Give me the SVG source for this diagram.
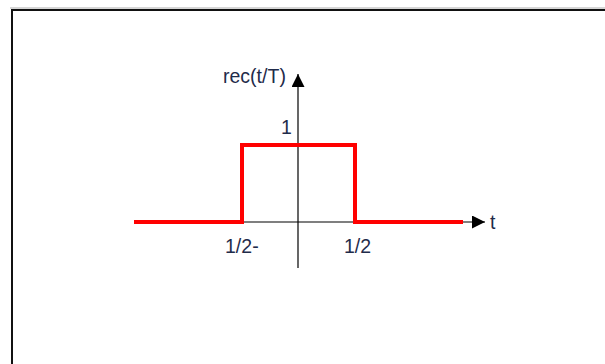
<svg xmlns="http://www.w3.org/2000/svg" width="605" height="364" viewBox="0 0 605 364">
<style>
.lbl{font-family:"Liberation Sans",Arial,sans-serif;font-size:21px;fill:#1f2b4a;}
.ax{stroke:#000;stroke-width:1.2;fill:none;}
.sig{stroke:#ff0000;stroke-width:4;fill:none;stroke-linejoin:miter;}
</style>
<defs>
<marker id="arr" viewBox="0 0 10 10" refX="10" refY="5" markerWidth="13" markerHeight="13" markerUnits="userSpaceOnUse" orient="auto">
<path d="M0,0 L10,5 L0,10 z" fill="#000"/>
</marker>
</defs>
<rect width="605" height="364" fill="#fff"/>
<line x1="10" y1="8" x2="605" y2="8" stroke="#c8c8c8" stroke-width="1.5"/>
<path d="M12,364 V10 H605" stroke="#111" stroke-width="2" fill="none"/>
<g id="connectors">
<line class="ax" x1="240" y1="222" x2="485" y2="222" marker-end="url(#arr)"/>
<line class="ax" x1="298" y1="268" x2="298" y2="74" marker-end="url(#arr)"/>
</g>
<g id="signal">
<path class="sig" d="M134,222 H242 V145 H355 V222 H463"/>
</g>
<g id="labels">
<text class="lbl" transform="translate(223 83) scale(0.93 1)">rec(t/T)</text>
<text class="lbl" transform="translate(281 134) scale(0.93 1)">1</text>
<text class="lbl" transform="translate(490 229) scale(0.93 1)">t</text>
<text class="lbl" transform="translate(225 253) scale(0.93 1)">1/2-</text>
<text class="lbl" transform="translate(344 253) scale(0.93 1)">1/2</text>
</g>
</svg>
